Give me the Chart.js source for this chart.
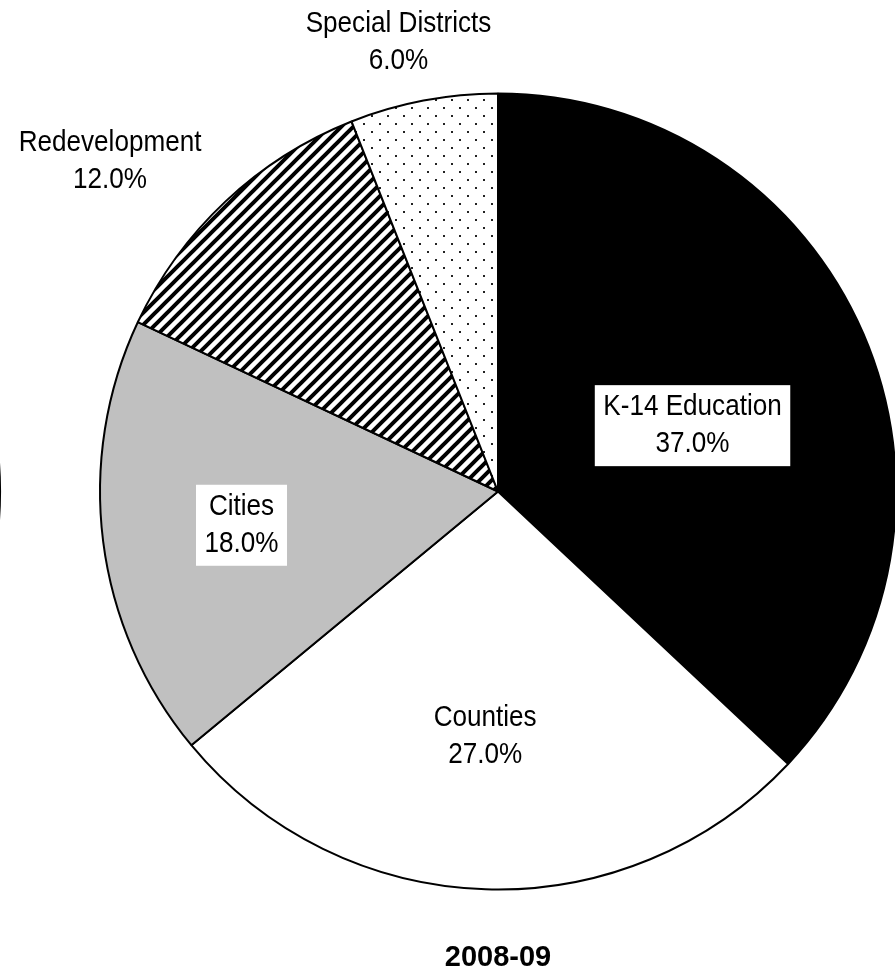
<!DOCTYPE html>
<html>
<head>
<meta charset="utf-8">
<script src="https://cdn.jsdelivr.net/npm/chart.js@4.4.1/dist/chart.umd.min.js"></script>
<style>
  html, body { margin: 0; padding: 0; background: #fff; overflow: hidden; }
  #wrap { width: 895px; height: 972px; overflow: hidden; }
</style>
</head>
<body>
<div id="wrap">
  <canvas id="shareChart" width="996" height="972"></canvas>
</div>
<script>
// property tax shares by recipient
const categories = ['K-14 Education', 'Counties', 'Cities', 'Redevelopment', 'Special Districts'];
const shares = [37.0, 27.0, 18.0, 12.0, 6.0];
const yearLabel = '2008-09';

// no condensed face installed, so labels get squeezed sideways
const labelFont = '30px "Liberation Sans", Arial, sans-serif';
const squeeze = 0.87;

// fill patterns
const makeStripes = () => {
  const s = 12;
  const c = document.createElement('canvas');
  c.width = s;
  c.height = s;
  const g = c.getContext('2d');
  g.fillStyle = '#fff';
  g.fillRect(0, 0, s, s);
  g.strokeStyle = '#000';
  g.lineWidth = 4;
  g.beginPath();
  g.moveTo(-2, s + 2);
  g.lineTo(s + 2, -2);
  g.moveTo(-2, 2);
  g.lineTo(2, -2);
  g.moveTo(s - 2, s + 2);
  g.lineTo(s + 2, s - 2);
  g.stroke();
  return g.createPattern(c, 'repeat');
};

const makeDots = () => {
  const s = 16;
  const c = document.createElement('canvas');
  c.width = s;
  c.height = s;
  const g = c.getContext('2d');
  g.fillStyle = '#fff';
  g.fillRect(0, 0, s, s);
  g.fillStyle = '#222';
  g.fillRect(3, 3, 2, 2);
  g.fillRect(11, 11, 2, 2);
  return g.createPattern(c, 'repeat');
};

const sliceFills = ['#000000', '#ffffff', '#c0c0c0', makeStripes(), makeDots()];

// where each label sits: angle clockwise from 12 o'clock, distance as a share of the radius
const labelSpots = [
  { angle: 71.3, r: 0.516, box: true },
  { angle: 183, r: 0.617, box: false },
  { angle: 262.5, r: 0.65, box: true },
  { angle: 310.4, r: 1.28, box: false },
  { angle: 347.5, r: 1.155, box: false },
];

const sliceLabels = {
  id: 'sliceLabels',
  afterDatasetsDraw(chart) {
    const ctx = chart.ctx;
    const meta = chart.getDatasetMeta(0);
    const lineGap = 37;
    ctx.save();
    ctx.font = labelFont;
    ctx.textAlign = 'center';
    ctx.textBaseline = 'middle';
    meta.data.forEach((arc, i) => {
      const spot = labelSpots[i];
      const a = (spot.angle * Math.PI) / 180;
      const x = arc.x + Math.sin(a) * arc.outerRadius * spot.r;
      const y = arc.y - Math.cos(a) * arc.outerRadius * spot.r;
      const lines = [categories[i], shares[i].toFixed(1) + '%'];
      if (spot.box) {
        const w = Math.max(...lines.map(t => ctx.measureText(t).width)) * squeeze + 17;
        const h = 81;
        ctx.fillStyle = '#fff';
        ctx.fillRect(x - w / 2, y - h / 2, w, h);
      }
      ctx.save();
      ctx.translate(x, y);
      ctx.scale(squeeze, 1);
      ctx.fillStyle = '#000';
      ctx.fillText(lines[0], 0, -lineGap / 2);
      ctx.fillText(lines[1], 0, lineGap / 2);
      ctx.restore();
    });
    ctx.restore();
  },
};

// edge of the neighbouring pie, cut off at the left of the page
const neighbourEdge = {
  id: 'neighbourEdge',
  afterDraw(chart) {
    const arc = chart.getDatasetMeta(0).data[0];
    const ctx = chart.ctx;
    ctx.save();
    ctx.strokeStyle = '#000';
    ctx.lineWidth = 2;
    ctx.beginPath();
    ctx.arc(arc.x - 896, arc.y, arc.outerRadius, -0.2, 0.2);
    ctx.stroke();
    ctx.restore();
  },
};

const ctx = document.getElementById('shareChart').getContext('2d');
const shareChart = new Chart(ctx, {
  type: 'pie',
  data: {
    labels: categories,
    datasets: [
      {
        data: shares,
        backgroundColor: sliceFills,
        borderColor: '#000',
        borderWidth: 2,
        hoverOffset: 0,
        offset: 0,
      },
    ],
  },
  options: {
    responsive: false,
    animation: false,
    events: [],
    layout: { padding: { left: 99, right: 99, top: 92, bottom: 0 } },
    plugins: {
      legend: { display: false },
      tooltip: { enabled: false },
      title: {
        display: true,
        position: 'bottom',
        text: yearLabel,
        color: '#000',
        font: { family: '"Liberation Sans", Arial, sans-serif', size: 29, weight: 'bold', lineHeight: 1 },
        padding: { top: 52, bottom: 0 },
      },
    },
  },
  plugins: [sliceLabels, neighbourEdge],
});
</script>
</body>
</html>
